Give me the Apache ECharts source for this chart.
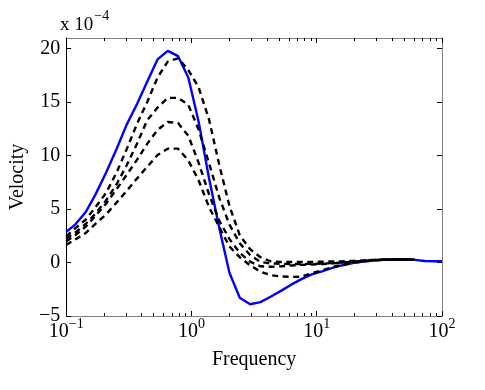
<!DOCTYPE html>
<html><head><meta charset="utf-8">
<script src="https://cdn.jsdelivr.net/npm/echarts@6/dist/echarts.min.js"></script>
<style>html,body{margin:0;padding:0;background:#fff}#c{width:485px;height:390px}</style>
</head><body><div id="c"></div>
<script>
// Frequencies (log-spaced sample points)
const freq = [0.1, 0.118, 0.143, 0.172, 0.208, 0.252, 0.304, 0.367, 0.443, 0.536, 0.647, 0.782, 0.944,
  1.14, 1.38, 1.67, 2.01, 2.43, 2.94, 3.55, 4.28, 5.18, 6.25, 7.55, 9.12,
  11.0, 13.3, 16.1, 19.4, 23.5, 28.4, 34.3, 41.4, 50.0, 60.4, 73.0, 88.1, 100];
// Velocity values (x 10^-4)
const solidBlue = [2.87, 3.55, 4.7, 6.4, 8.4, 10.6, 12.9, 14.8, 16.9, 19.0, 19.8, 19.3, 17.3,
  13.2, 7.9, 3.2, -0.95, -3.3, -3.9, -3.7, -3.2, -2.65, -2.07, -1.55, -1.1,
  -0.82, -0.5, -0.25, -0.05, 0.1, 0.2, 0.26, 0.28, 0.28, 0.25, 0.15, 0.12, 0.12];
const dashed1 = [2.45, 3.2, 4.0, 5.2, 6.5, 8.4, 10.6, 12.95, 15.0, 17.3, 18.8, 19.1, 18.0,
  16.4, 13.4, 9.1, 5.3, 2.55, 1.25, 0.5, 0.12, 0.05, 0.05, 0.05, 0.06,
  0.08, 0.1, 0.12, 0.15, 0.2, 0.25, 0.28, 0.28, 0.28, 0.27, null, null, null];
const dashed2 = [2.25, 2.8, 3.6, 4.6, 5.8, 7.3, 9.1, 11.1, 13.3, 14.5, 15.4, 15.4, 14.75,
  12.45, 9.3, 6.05, 3.55, 1.8, 0.7, 0.06, -0.08, -0.12, -0.14, -0.13, -0.12,
  -0.1, -0.05, 0.0, 0.08, 0.15, 0.22, 0.27, 0.28, 0.28, 0.27, null, null, null];
const dashed3 = [2.0, 2.55, 3.35, 4.4, 5.5, 6.85, 8.2, 9.6, 11.1, 12.4, 13.15, 13.05, 11.85,
  9.35, 6.4, 3.9, 2.2, 0.9, 0.08, -0.35, -0.4, -0.35, -0.28, -0.22, -0.18,
  -0.14, -0.08, 0.0, 0.08, 0.15, 0.22, 0.27, 0.28, 0.28, 0.27, null, null, null];
const dashed4 = [1.65, 2.15, 2.75, 3.64, 4.5, 5.6, 6.7, 7.85, 8.95, 10.05, 10.65, 10.65, 9.55,
  7.7, 5.2, 3.3, 1.5, 0.5, -0.26, -0.85, -1.18, -1.3, -1.34, -1.32, -1.0,
  -0.75, -0.42, -0.22, -0.03, 0.1, 0.2, 0.26, 0.28, 0.28, 0.27, null, null, null];
// Axis ticks
const xTickExp = [-1, 0, 1, 2];
const yTicks = [-5, 0, 5, 10, 15, 20];
const yMultiplierText = ['x 10', '−4'];
const xTitle = 'Frequency';
const yTitle = 'Velocity';

const FONT = 'Liberation Serif';
const xMajor = xTickExp.map(e => Math.pow(10, e));
const xMinor = [];
for (let i = 0; i < xTickExp.length - 1; i++) {
  for (let m = 2; m <= 9; m++) xMinor.push(m * Math.pow(10, xTickExp[i]));
}
const pair = arr => freq.map((f, i) => [f, arr[i]]);
const supFmt = v => {
  const e = Math.round(Math.log10(v));
  return '{b|10}{s|' + (e < 0 ? '−' + (-e) : e) + '}';
};
const richSup = {
  b: { fontFamily: FONT, fontSize: 20, color: '#000', lineHeight: 20, verticalAlign: 'bottom' },
  s: { fontFamily: FONT, fontSize: 14, color: '#000', lineHeight: 14, verticalAlign: 'bottom', padding: [0, 0, 11, 0] }
};
const GRAY = '#808080';
const baseX = (pos, extra) => Object.assign({
  type: 'log', logBase: 10, min: 0.1, max: 100, position: pos, gridIndex: 0,
  splitLine: { show: false },
  axisLine: { show: true, onZero: false, lineStyle: { color: GRAY, width: 1 } },
  axisTick: { show: true, inside: true, length: 5, lineStyle: { color: '#000' }, customValues: xMajor },
  axisLabel: { show: false },
  minorTick: { show: false }
}, extra);

const chart = echarts.init(document.getElementById('c'), null, { renderer: 'canvas' });
chart.setOption({
  animation: false,
  backgroundColor: '#fff',
  grid: { left: 60, right: 43, top: 38, bottom: 74, containLabel: false },
  xAxis: [
    baseX('bottom', {
      name: xTitle, nameLocation: 'middle', nameGap: 34,
      nameTextStyle: { fontFamily: FONT, fontSize: 20, color: '#000' },
      axisLabel: { show: true, margin: 6, customValues: xMajor, formatter: supFmt, rich: richSup }
    }),
    baseX('bottom', {
      axisLine: { show: false, onZero: false },
      axisTick: { show: true, inside: true, length: 3, lineStyle: { color: '#000' }, customValues: xMinor }
    }),
    baseX('top', {}),
    baseX('top', {
      axisLine: { show: false, onZero: false },
      axisTick: { show: true, inside: true, length: 3, lineStyle: { color: '#000' }, customValues: xMinor }
    })
  ],
  yAxis: [
    {
      type: 'value', min: -5, max: 21, interval: 5, position: 'left',
      name: yTitle, nameLocation: 'middle', nameGap: 36,
      nameTextStyle: { fontFamily: FONT, fontSize: 20, color: '#000' },
      splitLine: { show: false },
      axisLine: { show: true, onZero: false, lineStyle: { color: '#000', width: 1 } },
      axisTick: { show: true, inside: true, length: 5, lineStyle: { color: '#000' }, customValues: yTicks },
      axisLabel: {
        show: true, margin: 6, customValues: yTicks,
        fontFamily: FONT, fontSize: 20, color: '#000',
        formatter: v => (v < 0 ? '−' + Math.abs(v) : String(v))
      }
    },
    {
      type: 'value', min: -5, max: 21, interval: 5, position: 'right',
      splitLine: { show: false },
      axisLine: { show: true, onZero: false, lineStyle: { color: GRAY, width: 1 } },
      axisTick: { show: true, inside: true, length: 5, lineStyle: { color: '#000' }, customValues: yTicks },
      axisLabel: { show: false }
    }
  ],
  graphic: [{
    type: 'text', left: 60, top: 9,
    style: {
      text: '{m|' + yMultiplierText[0] + '}{e|' + yMultiplierText[1] + '}',
      rich: {
        m: { fontFamily: FONT, fontSize: 19, fill: '#000', lineHeight: 19, verticalAlign: 'bottom' },
        e: { fontFamily: FONT, fontSize: 14, fill: '#000', lineHeight: 14, verticalAlign: 'bottom', padding: [0, 0, 12, 1] }
      }
    }
  }],
  series: [
    { type: 'line', name: 'solid', data: pair(solidBlue), showSymbol: false, xAxisIndex: 0, yAxisIndex: 0,
      lineStyle: { color: '#0000ff', width: 2.4 }, z: 2 },
    ...[dashed1, dashed2, dashed3, dashed4].map((d, i) => ({
      type: 'line', name: 'dashed' + (i + 1), data: pair(d), showSymbol: false, xAxisIndex: 0, yAxisIndex: 0,
      lineStyle: { color: '#000', width: 2.4, type: [6, 4.5] }, z: 3
    }))
  ]
});
</script></body></html>
